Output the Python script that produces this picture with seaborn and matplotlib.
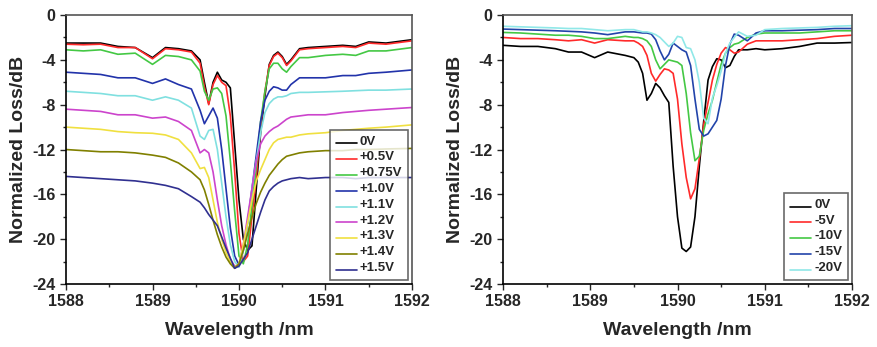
import pandas as pd
import matplotlib
matplotlib.use("Agg")
import matplotlib.pyplot as plt
import seaborn as sns
from matplotlib.ticker import MultipleLocator
from matplotlib.legend_handler import HandlerLine2D

# ---- left panel: forward bias ----
wl_left = [1588.0, 1588.2, 1588.4, 1588.6, 1588.8, 1589.0, 1589.15, 1589.3, 1589.45, 1589.55,
           1589.6, 1589.65, 1589.7, 1589.75, 1589.8, 1589.85, 1589.9, 1589.95, 1590.0, 1590.05,
           1590.1, 1590.15, 1590.2, 1590.25, 1590.3, 1590.35, 1590.4, 1590.45, 1590.5, 1590.55,
           1590.6, 1590.7, 1590.8, 1591.0, 1591.2, 1591.35, 1591.5, 1591.7, 1592.0]

labels_left = ['0V', '+0.5V', '+0.75V', '+1.0V', '+1.1V', '+1.2V', '+1.3V', '+1.4V', '+1.5V']

loss_0v = [-2.5, -2.5, -2.5, -2.8, -2.9, -3.8, -2.9, -3.0, -3.2, -4.0,
           -6.0, -7.9, -6.0, -5.1, -5.8, -6.0, -6.5, -11.5, -16.5, -20.0,
           -21.0, -20.6, -15.5, -10.5, -7.2, -4.4, -3.6, -3.3, -3.7, -4.4,
           -4.0, -3.0, -2.9, -2.8, -2.7, -2.8, -2.4, -2.5, -2.2]
loss_05v = [-2.6, -2.65, -2.6, -2.9, -2.9, -3.9, -3.0, -3.1, -3.3, -4.3,
            -6.4, -8.0, -6.2, -5.4, -6.0, -6.3, -9.0, -14.0, -19.5, -22.0,
            -21.5, -18.0, -14.5, -10.0, -6.8, -4.5, -3.7, -3.4, -3.8, -4.5,
            -4.1, -3.1, -3.0, -2.9, -2.8, -2.9, -2.5, -2.6, -2.3]
loss_075v = [-3.1, -3.2, -3.1, -3.5, -3.4, -4.4, -3.6, -3.7, -4.0, -5.0,
             -6.8, -7.6, -6.6, -6.5, -7.0, -9.0, -13.0, -17.5, -21.5, -22.2,
             -20.5, -17.0, -13.5, -9.5, -6.8, -4.8, -4.3, -4.3, -4.8, -5.1,
             -4.6, -3.8, -3.8, -3.6, -3.5, -3.6, -3.2, -3.2, -2.9]
loss_10v = [-5.1, -5.2, -5.3, -5.6, -5.6, -6.1, -5.7, -6.2, -6.6, -8.5,
            -9.7, -9.0, -8.3, -9.2, -12.0, -15.5, -19.0, -21.5, -22.3, -21.0,
            -18.5, -15.5, -12.5, -9.5, -7.6, -6.8, -6.4, -6.5, -6.7, -6.7,
            -6.2, -5.6, -5.6, -5.6, -5.4, -5.4, -5.2, -5.1, -4.9]
loss_11v = [-6.8, -6.9, -7.0, -7.2, -7.2, -7.6, -7.3, -7.6, -8.3, -10.8,
            -11.1, -10.3, -10.2, -12.0, -15.0, -18.0, -20.5, -22.0, -22.5, -21.0,
            -18.5, -15.5, -13.0, -10.5, -8.7, -7.9, -7.5, -7.3, -7.3, -7.2,
            -7.0, -6.9, -6.9, -6.85, -6.8, -6.75, -6.7, -6.7, -6.6]
loss_12v = [-8.4, -8.5, -8.6, -8.9, -8.9, -9.2, -9.1, -9.5, -10.3, -12.3,
            -12.0, -12.3, -14.0, -16.5, -18.8, -20.5, -21.8, -22.4, -22.3, -20.5,
            -18.0, -15.5, -13.0, -11.5, -10.8, -10.4, -10.1, -9.9, -9.6, -9.3,
            -9.1, -9.0, -8.9, -8.9, -8.7, -8.6, -8.5, -8.4, -8.25]
loss_13v = [-10.0, -10.1, -10.2, -10.4, -10.5, -10.55, -10.7, -11.1, -12.3, -13.7,
            -13.6, -14.5, -16.5, -18.5, -20.0, -21.2, -22.0, -22.5, -22.2, -20.5,
            -18.5, -16.5, -14.8, -13.8, -12.9, -12.0, -11.4, -11.1, -11.0, -10.9,
            -10.9, -10.7, -10.6, -10.5, -10.3, -10.2, -10.1, -10.0, -9.8]
loss_14v = [-12.0, -12.1, -12.2, -12.2, -12.3, -12.5, -12.7, -13.2, -14.0, -14.7,
            -15.6, -16.9, -18.3, -19.6, -20.7, -21.6, -22.2, -22.6, -22.2, -21.0,
            -19.5, -18.0, -16.8, -15.8, -15.0, -14.3, -13.8, -13.3, -12.9, -12.6,
            -12.5, -12.3, -12.2, -12.1, -12.1, -12.0, -12.0, -11.95, -11.9]
loss_15v = [-14.4, -14.5, -14.6, -14.7, -14.8, -15.0, -15.2, -15.5, -16.2, -16.7,
            -17.2, -17.8, -18.3, -18.8, -19.8, -20.8, -21.7, -22.6, -22.4, -21.8,
            -21.2, -20.0, -18.8, -17.6, -16.5, -15.7, -15.3, -15.0, -14.8, -14.7,
            -14.6, -14.5, -14.6, -14.5, -14.5, -14.6, -14.5, -14.5, -14.5]

colors_left = ['#000000', '#ff2a2a', '#44c844', '#2233aa', '#80e0e0',
               '#cc44cc', '#f0e040', '#808000', '#303090']

# ---- right panel: reverse bias ----
wl_right = [1588.0, 1588.2, 1588.4, 1588.6, 1588.75, 1588.9, 1589.05, 1589.2, 1589.4, 1589.5,
            1589.55, 1589.6, 1589.65, 1589.7, 1589.75, 1589.8, 1589.85, 1589.9, 1589.95, 1590.0,
            1590.05, 1590.1, 1590.15, 1590.2, 1590.25, 1590.3, 1590.35, 1590.4, 1590.45, 1590.5,
            1590.55, 1590.6, 1590.65, 1590.7, 1590.8, 1590.9, 1591.0, 1591.2, 1591.4, 1591.6,
            1591.8, 1592.0]

labels_right = ['0V', '-5V', '-10V', '-15V', '-20V']

rev_0v = [-2.7, -2.8, -2.8, -3.0, -3.3, -3.3, -3.8, -3.3, -3.6, -3.8,
          -4.2, -5.2, -7.6, -7.0, -6.1, -6.5, -7.2, -7.8, -13.5, -18.0,
          -20.8, -21.1, -20.7, -18.0, -13.5, -9.5, -5.8, -4.6, -3.9, -4.0,
          -4.7, -4.5, -3.7, -3.1, -3.1, -3.0, -3.1, -3.0, -2.8, -2.5,
          -2.5, -2.45]
rev_5v = [-2.0, -2.1, -2.1, -2.2, -2.3, -2.2, -2.5, -2.2, -2.3, -2.3,
          -2.5, -2.8, -3.6, -5.2, -5.9, -5.3, -4.8, -4.9, -5.2, -7.5,
          -11.5, -14.5, -16.4, -15.5, -12.8, -9.8, -7.8, -5.8, -4.4, -3.4,
          -2.9, -3.1, -3.4, -3.3, -2.6, -2.3, -2.3, -2.3, -2.2, -2.1,
          -1.9, -1.8]
rev_10v = [-1.55, -1.6, -1.7, -1.8, -1.8, -1.9, -2.1, -2.1, -1.9, -2.0,
           -2.0, -2.1, -2.3, -2.8, -4.0, -4.8, -4.4, -4.0, -4.1, -4.2,
           -4.5, -7.0, -10.5, -13.0, -12.6, -10.3, -8.8, -7.6, -6.0, -4.4,
           -3.4, -2.9, -2.6, -2.5, -2.0, -1.7, -1.6, -1.6, -1.6, -1.5,
           -1.4, -1.4]
rev_15v = [-1.25, -1.3, -1.35, -1.4, -1.45, -1.5, -1.6, -1.75, -1.5, -1.5,
           -1.55, -1.6, -1.6, -1.7, -2.2, -3.2, -4.0, -3.5, -2.5, -2.8,
           -3.1, -3.3, -4.5, -7.5, -10.2, -10.8, -10.6, -10.0, -9.4, -7.5,
           -4.5, -2.6, -1.7, -1.8, -2.3, -1.6, -1.4, -1.4, -1.35, -1.3,
           -1.2, -1.2]
rev_20v = [-1.0, -1.05, -1.1, -1.15, -1.2, -1.2, -1.3, -1.4, -1.3, -1.3,
           -1.4, -1.5, -1.5, -1.6, -1.75, -2.0, -2.4, -2.8, -2.5, -1.9,
           -2.0, -2.9, -3.0, -4.0, -6.0, -9.2, -9.7, -7.4, -6.3, -5.0,
           -3.4, -2.5, -2.0, -1.5, -1.9, -1.8, -1.3, -1.2, -1.15, -1.1,
           -1.0, -0.95]

colors_right = ['#000000', '#ff2a2a', '#44c844', '#2244aa', '#90e8e8']

left_series = [loss_0v, loss_05v, loss_075v, loss_10v, loss_11v,
               loss_12v, loss_13v, loss_14v, loss_15v]
right_series = [rev_0v, rev_5v, rev_10v, rev_15v, rev_20v]


def long_form(wl, labels, series):
    frames = []
    for lab, vals in zip(labels, series):
        frames.append(pd.DataFrame({'wl': wl, 'loss': vals, 'bias': lab}))
    return pd.concat(frames, ignore_index=True)


# legend line sits a bit below its label, like the original software does
class LowLine(HandlerLine2D):
    def create_artists(self, legend, orig_handle, xdescent, ydescent,
                       width, height, fontsize, trans):
        arts = super().create_artists(legend, orig_handle, xdescent, ydescent,
                                      width, height, fontsize, trans)
        for a in arts:
            a.set_ydata([y - 0.35 * height for y in a.get_ydata()])
        return arts


df_left = long_form(wl_left, labels_left, left_series)
df_right = long_form(wl_right, labels_right, right_series)

sns.set_style("ticks")
plt.rcParams['font.family'] = ['Liberation Sans', 'DejaVu Sans']
plt.rcParams['font.weight'] = 'bold'

fig = plt.figure(figsize=(8.78, 3.47), dpi=100)
ax1 = fig.add_axes([0.0752, 0.1816, 0.394, 0.775])
ax2 = fig.add_axes([0.5729, 0.1816, 0.3975, 0.775])

sns.lineplot(data=df_left, x='wl', y='loss', hue='bias', hue_order=labels_left,
             palette=dict(zip(labels_left, colors_left)), linewidth=1.2,
             sort=False, ax=ax1)
sns.lineplot(data=df_right, x='wl', y='loss', hue='bias', hue_order=labels_right,
             palette=dict(zip(labels_right, colors_right)), linewidth=1.2,
             sort=False, ax=ax2)

for ax in (ax1, ax2):
    ax.set_xlim(1588, 1592)
    ax.set_ylim(-24, 0)
    ax.xaxis.set_major_locator(MultipleLocator(1))
    ax.xaxis.set_minor_locator(MultipleLocator(0.5))
    ax.yaxis.set_major_locator(MultipleLocator(4))
    ax.yaxis.set_minor_locator(MultipleLocator(2))
    ax.tick_params(which='major', direction='out', length=4, width=1, labelsize=11.5)
    ax.tick_params(which='minor', direction='out', length=2.5, width=1)
    ax.xaxis.set_major_formatter(plt.FuncFormatter(lambda v, _: f'{v:.0f}'))
    ax.yaxis.set_major_formatter(plt.FuncFormatter(lambda v, _: f'{v:.0f}'))
    for lab in ax.get_xticklabels() + ax.get_yticklabels():
        lab.set_fontweight('bold')
    for sp in ax.spines.values():
        sp.set_color('#555555')
        sp.set_linewidth(1.2)
    ax.spines['left'].set_color('black')
    ax.spines['bottom'].set_color('black')
    ax.set_xlabel('Wavelength /nm', fontsize=14, fontweight='bold', labelpad=9)
    ax.set_ylabel('Normalized Loss/dB', fontsize=14, fontweight='bold', labelpad=4)

leg_opts = dict(loc='lower right', fontsize=9.5, frameon=True, fancybox=False,
                edgecolor='#444444', handlelength=1.6, handletextpad=0.2,
                labelspacing=0.27, borderpad=0.45, borderaxespad=0.3,
                handler_map={matplotlib.lines.Line2D: LowLine()})
leg1 = ax1.legend(**leg_opts)
leg2 = ax2.legend(**leg_opts)
for leg in (leg1, leg2):
    leg.get_frame().set_linewidth(1.2)
    for t in leg.get_texts():
        t.set_fontweight('bold')

fig.savefig('out.png', dpi=100)
